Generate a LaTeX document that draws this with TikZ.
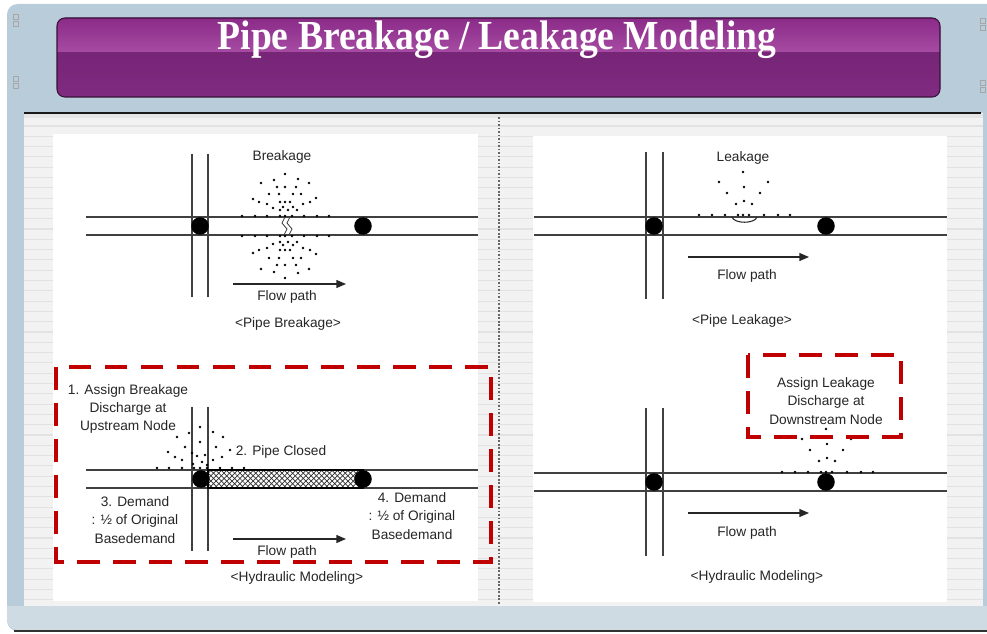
\documentclass[tikz,border=0pt]{standalone}
\usepackage{fontspec}
\setmainfont{Liberation Sans}
\newfontfamily\titlefont{Liberation Serif}
\usetikzlibrary{arrows.meta,patterns}

\definecolor{framebg}{HTML}{B9CCD9}
\definecolor{framelow}{HTML}{CFDBE3}
\definecolor{sheet}{HTML}{F2F2F2}
\definecolor{sheetline}{HTML}{E2E2E2}
\definecolor{bartop}{HTML}{8A2B88}
\definecolor{barlight}{HTML}{A64BA3}
\definecolor{bardark}{HTML}{6F2070}
\definecolor{barlow}{HTML}{802B80}
\definecolor{markred}{HTML}{C00000}

% spray of a leak, relative to the leak point on the pipe wall
\newcommand\leakdots{0/-43,-24/-33,25/-33,1/-28,-16/-22,17/-22,-7/-11,1/-14,9/-11,%
  -44/0,-31/0,-18/0,-5/0,0/0,6/0,21/0,35/0,47/0}

\begin{document}
\begin{tikzpicture}[x=0.02cm, y=-0.02cm,
    pipe/.style={draw=black!75, line width=0.6pt},
    junction/.style={circle, fill=black, inner sep=0pt, minimum size=10pt},
    lbl/.style={font=\fontsize{7.8}{10.5}\selectfont, text=black!85, align=center, inner sep=0pt},
    flow/.style={draw=black!85, line width=0.8pt, -{Triangle[length=5.5pt,width=4.5pt]}},
    drop/.style={fill=black},
    marked/.style={draw=markred, line width=2.2pt, dash pattern=on 13pt off 7.5pt}
  ]
  \useasboundingbox (0,0) rectangle (987,634);
  \fill[white] (0,0) rectangle (987,634);

  % slide frame
  \fill[framebg, rounded corners=6pt] (7,4) rectangle (1010,631);
  \fill[framelow, rounded corners=6pt] (7,560) -- (7,630) -- (1010,630) -- (1010,606) [sharp corners] -- (7,606) -- cycle;
  \draw[black!80, line width=1pt] (14,631) -- (987,631);
  \foreach \yy in {14,76} {
    \draw[black!35, line width=0.4pt] (13,\yy) rectangle (18,\yy+5);
    \draw[black!35, line width=0.4pt] (13,\yy+7) rectangle (18,\yy+12);
    \draw[black!35, line width=0.4pt] (980,\yy+4) rectangle (985,\yy+9);
    \draw[black!35, line width=0.4pt] (980,\yy+11) rectangle (985,\yy+16);
  }

  % title bar
  \shade[top color=bardark, bottom color=barlow, rounded corners=4.5pt] (57,18) rectangle (940,97);
  \shade[top color=bartop, bottom color=barlight] (57,52) [rounded corners=4.5pt] -- (57,18) -- (940,18) [sharp corners] -- (940,52) -- cycle;
  \draw[black!50!bardark, line width=0.6pt, rounded corners=4.5pt] (57,18) rectangle (940,97);
  \node[font=\titlefont\bfseries\fontsize{23.5}{26}\selectfont, text=white, xscale=0.91, anchor=base] (title) at (497,50) {Pipe Breakage / Leakage Modeling};

  % sheet with ruled lines
  \fill[sheet] (24,113) rectangle (983,606);
  \foreach \k in {0,...,46}
    \draw[sheetline, line width=0.6pt] (24,126+10.3*\k) -- (983,126+10.3*\k);
  \fill[black!10] (24,114) rectangle (983,118);
  \draw[black!90, line width=1.3pt] (24,113) -- (981,113);
  \fill[white] (53,134) rectangle (478,601);
  \fill[white] (533,136) rectangle (947,602);
  \draw[black!60, line width=0.6pt, dash pattern=on 1pt off 1pt] (499,117) -- (499,605);

  %% pipe breakage
  \draw[pipe] (192,154) -- (192,297);
  \draw[pipe] (208,154) -- (208,297);
  \draw[pipe] (86,217) -- (478,217);
  \draw[pipe] (86,235) -- (478,235);
  \draw[black!75, line width=0.5pt] (285,217) -- (282,223) -- (287,229) -- (284,235);
  \draw[black!75, line width=0.5pt] (290,217) -- (287,223) -- (292,229) -- (289,235);
  \foreach \x/\y in {285/174,261/183,274/180,298/179,309/183,277/187,285/187,296/187,
      269/194,279/194,293/194,301/194,253/199,316/198,259/202,267/204,280/202,285/202,
      290/202,303/204,310/202,273/208,280/210,283/207,288/210,293/207,297/210,
      242/216,255/216,267/216,280/216,285/216,292/216,304/216,317/216,329/216} {
    \fill[drop] (\x,\y) circle[radius=0.8pt];
    \fill[drop] (\x,452-\y) circle[radius=0.8pt];
  }
  \node[junction] (bA) at (200,226) {};
  \node[junction] (bB) at (363,226) {};
  \node[lbl] (bTag) at (282,157) {Breakage};
  \coordinate (bF1) at (233,284);
  \coordinate (bF2) at (346,284);
  \draw[flow] (bF1) -- (bF2);
  \node[lbl] (bFlow) at (287,297) {Flow path};
  \node[lbl] (bCap) at (288,324) {<Pipe Breakage>};

  %% pipe leakage
  \draw[pipe] (646,152) -- (646,299);
  \draw[pipe] (663,152) -- (663,299);
  \draw[pipe] (534,217) -- (947,217);
  \draw[pipe] (534,235) -- (947,235);
  \begin{scope}[shift={(743,215)}]
    \foreach \dx/\dy in \leakdots
      \fill[drop] (\dx,\dy) circle[radius=0.8pt];
  \end{scope}
  \draw[black!85, line width=0.6pt] (732,217) .. controls (734,224) and (755,224) .. (757,217);
  \node[junction] (lA) at (654,226) {};
  \node[junction] (lB) at (826,226) {};
  \node[lbl] (lTag) at (743,158) {Leakage};
  \coordinate (lF1) at (688,257);
  \coordinate (lF2) at (809,257);
  \draw[flow] (lF1) -- (lF2);
  \node[lbl] (lFlow) at (747,276) {Flow path};
  \node[lbl] (lCap) at (742,321) {<Pipe Leakage>};

  %% breakage in the hydraulic model
  \draw[pipe] (192,407) -- (192,551);
  \draw[pipe] (208,407) -- (208,551);
  \draw[pipe] (86,470) -- (478,470);
  \draw[pipe] (86,488) -- (478,488);
  \draw[black, line width=0.6pt, pattern=crosshatch, pattern color=black!80] (208,470) rectangle (363,488);
  \foreach \x/\y in {200/427,177/437,189/433,213/432,223/437,185/447,200/442,216/447,
      168/452,230/450,175/457,192/453,197/456,205/455,182/460,202/462,213/460,222/457,
      193/464,207/465,
      157/468,169/468,182/468,194/468,200/468,207/468,220/468,232/468,244/468}
    \fill[drop] (\x,\y) circle[radius=0.8pt];
  \node[junction] (hA) at (201,479) {};
  \node[junction] (hB) at (363,479) {};
  \node[lbl] (hNote1) at (128,409) {1. Assign Breakage\\Discharge at\\Upstream Node};
  \node[lbl] (hNote2) at (281,452) {2. Pipe Closed};
  \node[lbl] (hNote3) at (135,520) {3. Demand\\: ½ of Original\\Basedemand};
  \node[lbl] (hNote4) at (412,516) {4. Demand\\: ½ of Original\\Basedemand};
  \coordinate (hF1) at (233,539);
  \coordinate (hF2) at (346,539);
  \draw[flow] (hF1) -- (hF2);
  \node[lbl] (hFlow) at (287,552) {Flow path};
  \node[lbl] (hCap) at (297,578) {<Hydraulic Modeling>};
  \draw[marked] (56,367) rectangle (491,562);

  %% leakage in the hydraulic model
  \draw[pipe] (646,408) -- (646,556);
  \draw[pipe] (663,408) -- (663,556);
  \draw[pipe] (534,473) -- (947,473);
  \draw[pipe] (534,491) -- (947,491);
  \begin{scope}[shift={(826,472)}]
    \foreach \dx/\dy in \leakdots
      \fill[drop] (\dx,\dy) circle[radius=0.8pt];
  \end{scope}
  \node[junction] (mA) at (654,482) {};
  \node[junction] (mB) at (826,482) {};
  \node[lbl] (mNote) at (826,401) {Assign Leakage\\Discharge at\\Downstream Node};
  \draw[marked] (748,355) rectangle (901,437);
  \coordinate (mF1) at (688,513);
  \coordinate (mF2) at (809,513);
  \draw[flow] (mF1) -- (mF2);
  \node[lbl] (mFlow) at (747,533) {Flow path};
  \node[lbl] (mCap) at (757,577) {<Hydraulic Modeling>};
\end{tikzpicture}
\end{document}
